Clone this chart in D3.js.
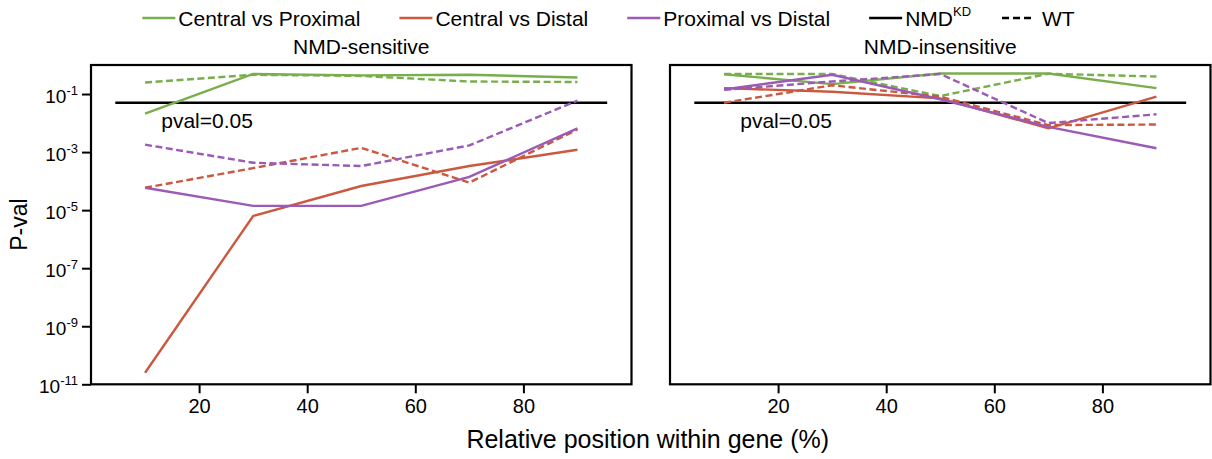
<!DOCTYPE html>
<html>
<head>
<meta charset="utf-8">
<script src="https://cdn.jsdelivr.net/npm/d3@7"></script>
<style>
  html, body { margin: 0; padding: 0; background: #fff; }
  svg { display: block; font-family: "Liberation Sans", Arial, sans-serif; }
</style>
</head>
<body>
<svg id="chart" width="1212" height="459"></svg>
<script>
// Relative position bins (% along gene)
const positions = [10, 30, 50, 70, 90];

// Comparisons and their colours
const comparisons = ["Central vs Proximal", "Central vs Distal", "Proximal vs Distal"];
const compColors = ["#79ae4c", "#cb583f", "#9a5ab6"];

// NMD-sensitive p-values (KD = solid, WT = dashed)
const sensCentralProximalKD = [0.021, 0.49, 0.44, 0.46, 0.37];
const sensCentralProximalWT = [0.25, 0.46, 0.42, 0.27, 0.26];
const sensCentralDistalKD   = [2.5e-11, 6.3e-6, 6.8e-5, 3.3e-4, 1.2e-3];
const sensCentralDistalWT   = [5.9e-5, 2.8e-4, 1.4e-3, 8.9e-5, 6.0e-3];
const sensProximalDistalKD  = [5.9e-5, 1.4e-5, 1.4e-5, 1.4e-4, 6.6e-3];
const sensProximalDistalWT  = [1.8e-3, 4.3e-4, 3.3e-4, 1.7e-3, 0.059];

// NMD-insensitive p-values
const insCentralProximalKD = [0.48, 0.22, 0.51, 0.51, 0.16];
const insCentralProximalWT = [0.49, 0.49, 0.085, 0.50, 0.40];
const insCentralDistalKD   = [0.16, 0.12, 0.071, 6.6e-3, 0.081];
const insCentralDistalWT   = [0.050, 0.20, 0.081, 8.5e-3, 8.9e-3];
const insProximalDistalKD  = [0.145, 0.46, 0.066, 7.4e-3, 1.35e-3];
const insProximalDistalWT  = [0.14, 0.27, 0.49, 0.010, 0.020];

// Significance threshold
const pThreshold = 0.05;
const thresholdSpan = [4.5, 95.5];

// Axis ticks
const xTicks = [20, 40, 60, 80];
const yTickExponents = [-1, -3, -5, -7, -9, -11];

const panelTitles = ["NMD-sensitive", "NMD-insensitive"];

const panelSeries = [
  [sensCentralProximalKD, sensCentralProximalWT, sensCentralDistalKD, sensCentralDistalWT, sensProximalDistalKD, sensProximalDistalWT],
  [insCentralProximalKD, insCentralProximalWT, insCentralDistalKD, insCentralDistalWT, insProximalDistalKD, insProximalDistalWT]
];

const svg = d3.select("#chart");
const plotTop = 65, plotBottom = 384.3;
const panels = [{ left: 91, right: 631.5 }, { left: 670, right: 1210.5 }];
const dash = "7,3.5";
const fontMain = 21;

const y = d3.scaleLog().domain([1e-11, 1]).range([plotBottom, plotTop]);

panels.forEach((p, pi) => {
  const x = d3.scaleLinear().domain([0, 100]).range([p.left, p.right]);
  const g = svg.append("g");

  // threshold line
  g.append("line")
    .attr("x1", x(thresholdSpan[0])).attr("x2", x(thresholdSpan[1]))
    .attr("y1", y(pThreshold)).attr("y2", y(pThreshold))
    .attr("stroke", "#000").attr("stroke-width", 2.6);

  g.append("text")
    .attr("x", x(13)).attr("y", y(pThreshold) + 25)
    .attr("font-size", fontMain).attr("fill", "#000")
    .text("pval=" + pThreshold);

  // series
  const line = d3.line().x((d, i) => x(positions[i])).y(d => y(d));
  panelSeries[pi].forEach((vals, si) => {
    const ci = Math.floor(si / 2);
    const isWT = si % 2 === 1;
    g.append("path")
      .datum(vals)
      .attr("d", line)
      .attr("fill", "none")
      .attr("stroke", compColors[ci])
      .attr("stroke-width", 2.4)
      .attr("stroke-dasharray", isWT ? dash : null);
  });

  // x axis
  const xAxis = d3.axisBottom(x).tickValues(xTicks).tickSize(9).tickPadding(6).tickSizeOuter(0);
  const xg = g.append("g").attr("transform", `translate(0,${plotBottom})`).call(xAxis);
  xg.select(".domain").remove();
  xg.selectAll(".tick line").attr("stroke", "#000").attr("stroke-width", 2);
  xg.selectAll(".tick text").attr("font-size", 20).attr("fill", "#000")
    .attr("font-family", "'Liberation Sans', Arial, sans-serif");

  // y axis (labels only on the first panel)
  if (pi === 0) {
    const yAxis = d3.axisLeft(y)
      .tickValues(yTickExponents.map(e => Math.pow(10, e)))
      .tickSize(9).tickPadding(5).tickFormat(() => "");
    const yg = g.append("g").attr("transform", `translate(${p.left},0)`).call(yAxis);
    yg.select(".domain").remove();
    yg.selectAll(".tick line").attr("stroke", "#000").attr("stroke-width", 2);
    yg.selectAll(".tick text").each(function (d) {
      const t = d3.select(this).text(null)
        .attr("font-size", 19).attr("fill", "#000")
        .attr("font-family", "'Liberation Sans', Arial, sans-serif")
        .attr("x", -13).attr("dy", "0.45em");
      t.append("tspan").text("10");
      t.append("tspan").attr("font-size", 13).attr("dy", "-0.65em")
        .text(String(Math.round(Math.log10(d))));
    });
  }

  // frame
  g.append("rect")
    .attr("x", p.left).attr("y", plotTop)
    .attr("width", p.right - p.left).attr("height", plotBottom - plotTop)
    .attr("fill", "none").attr("stroke", "#000").attr("stroke-width", 2.2);

  // title
  g.append("text")
    .attr("x", (p.left + p.right) / 2).attr("y", 54)
    .attr("text-anchor", "middle").attr("font-size", fontMain)
    .text(panelTitles[pi]);
});

// axis labels
svg.append("text")
  .attr("transform", `translate(27,${(plotTop + plotBottom) / 2}) rotate(-90)`)
  .attr("text-anchor", "middle").attr("font-size", 23)
  .text("P-val");

svg.append("text")
  .attr("x", (panels[0].left + panels[1].right) / 2 - 3).attr("y", 448)
  .attr("text-anchor", "middle").attr("font-size", 25)
  .text("Relative position within gene (%)");

// legend
const legendItems = comparisons.map((c, i) => ({ label: c, color: compColors[i], dashed: false, sup: null, gap: 39 }))
  .concat([
    { label: "NMD", sup: "KD", color: "#000", dashed: false, gap: 31 },
    { label: "WT", sup: null, color: "#000", dashed: true, gap: 0 }
  ]);

const legend = svg.append("g");
let cx = 0;
const handleLen = 33, handleGap = 3, legendY = 18;
legendItems.forEach(it => {
  const item = legend.append("g").attr("transform", `translate(${cx},0)`);
  item.append("line")
    .attr("x1", 0).attr("x2", handleLen)
    .attr("y1", legendY).attr("y2", legendY)
    .attr("stroke", it.color).attr("stroke-width", 2.4)
    .attr("stroke-dasharray", it.dashed ? "7,4" : null);
  const t = item.append("text")
    .attr("x", handleLen + handleGap + (it.dashed ? 4 : 0)).attr("y", legendY + 7.5)
    .attr("font-size", fontMain).text(it.label);
  if (it.sup) {
    t.append("tspan").attr("font-size", 13).attr("dy", "-0.7em").text(it.sup);
  }
  cx += handleLen + handleGap + (it.dashed ? 4 : 0) + t.node().getComputedTextLength() + it.gap;
});
legend.attr("transform", `translate(${608.5 - cx / 2},0)`);
</script>
</body>
</html>
